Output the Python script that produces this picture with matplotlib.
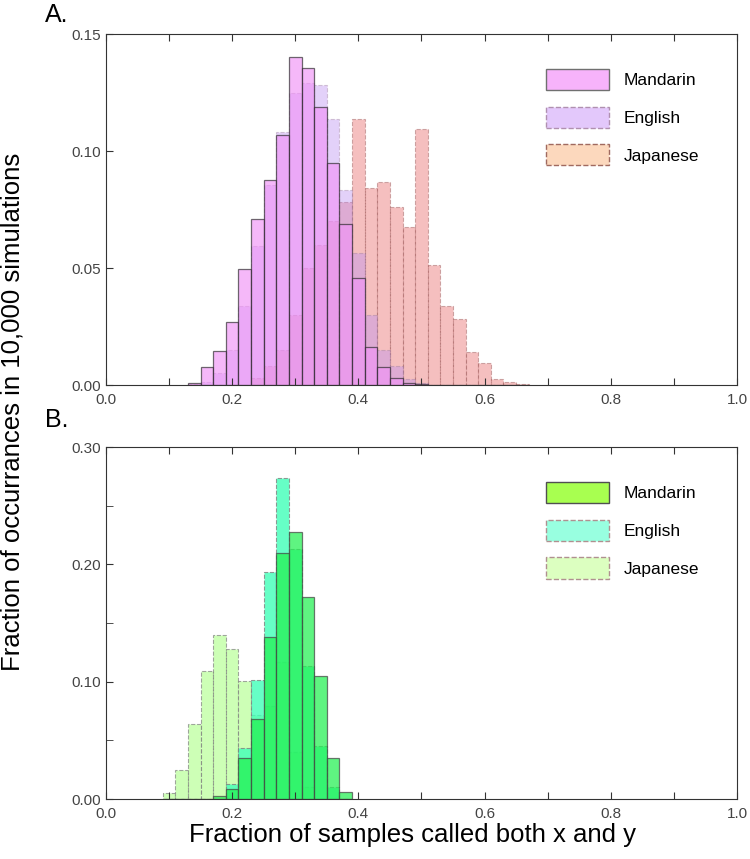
import numpy as np
import matplotlib.pyplot as plt
from matplotlib.patches import Patch
from matplotlib.ticker import MultipleLocator, FuncFormatter

plt.rcParams['font.family'] = ['Liberation Sans', 'DejaVu Sans']

# panel A: bin centres (width 0.02) and fractions
centers_a = np.round(np.arange(0.14, 0.661, 0.02), 2)
mandarin_a = [0.0007, 0.0076, 0.0147, 0.0268, 0.0496, 0.0709, 0.0876, 0.1068, 0.140, 0.1355,
              0.1187, 0.095, 0.0688, 0.0456, 0.0164, 0.0076, 0.0028, 0.0007, 0.0003, 0, 0, 0, 0, 0, 0, 0, 0]
english_a = [0.0004, 0.0014, 0.005, 0.015, 0.0339, 0.0594, 0.0855, 0.1083, 0.125, 0.129,
             0.128, 0.1135, 0.0833, 0.0563, 0.0299, 0.015, 0.0081, 0.0024, 0.0007, 0, 0, 0, 0, 0, 0, 0, 0]
japanese_a = [0, 0, 0, 0, 0, 0.003, 0.008, 0.015, 0.03, 0.05,
              0.06, 0.07, 0.078, 0.1135, 0.084, 0.0866, 0.0759, 0.0674, 0.1093, 0.0513,
              0.0339, 0.0283, 0.0141, 0.0093, 0.0026, 0.0011, 0.0004]

# panel B
centers_b = np.round(np.arange(0.10, 0.381, 0.02), 2)
mandarin_b = [0, 0, 0, 0, 0.003, 0.0083, 0.0348, 0.0681, 0.138, 0.21, 0.2274, 0.1724, 0.105, 0.035, 0.006]
english_b = [0, 0, 0, 0, 0, 0.0128, 0.0438, 0.1011, 0.1937, 0.2735, 0.2128, 0.113, 0.045, 0.01, 0]
japanese_b = [0.0054, 0.0245, 0.0641, 0.1094, 0.1396, 0.1276, 0.1006, 0.072, 0.079, 0.117, 0.04, 0.01, 0, 0, 0]

labels = ['Mandarin', 'English', 'Japanese']

fig = plt.figure(figsize=(7.5, 8.59), dpi=100)
ax_a = fig.add_axes([0.1413, 0.5518, 0.8413, 0.4086])
ax_b = fig.add_axes([0.1413, 0.0698, 0.8413, 0.4098])


def draw(ax, centers, series, styles, legend_cols, legend_edges):
    for vals, st in zip(series, styles):
        ax.bar(centers, vals, width=0.02, align='center', **st)
    handles = [Patch(facecolor=fc, edgecolor=ec, linestyle=ls, linewidth=1)
               for fc, (ec, ls) in zip(legend_cols, legend_edges)]
    ax.legend(handles, labels, loc='upper right', bbox_to_anchor=(0.965, 0.945), frameon=False,
              fontsize=12.5, handlelength=3.6, handleheight=1.5, labelspacing=0.95, handletextpad=0.85)


def style_axes(ax, ymax, ymajor, yminor, yfmt):
    ax.set_xlim(0, 1)
    ax.set_ylim(0, ymax)
    ax.xaxis.set_major_locator(MultipleLocator(0.1))
    ax.xaxis.set_major_formatter(FuncFormatter(
        lambda v, p: f'{v:.1f}' if round(v * 10) % 2 == 0 else ''))
    ax.yaxis.set_major_locator(MultipleLocator(ymajor))
    ax.yaxis.set_minor_locator(MultipleLocator(yminor))
    ax.yaxis.set_major_formatter(FuncFormatter(lambda v, p: yfmt.format(v)))
    ax.tick_params(axis='both', which='both', direction='in', length=5, colors='#333333',
                   labelcolor='#444444', labelsize=11, top=True)
    ax.tick_params(axis='x', pad=6)
    for sp in ax.spines.values():
        sp.set_color('#333333')


draw(ax_a, centers_a, [japanese_a, english_a, mandarin_a],
     [dict(color='#ed8181', alpha=0.5, edgecolor='#a06060', linestyle='--', linewidth=0.8),
      dict(color='#bb8ef2', alpha=0.4, edgecolor='#9a7a9a', linestyle='--', linewidth=0.8),
      dict(color='#f093f7', alpha=0.65, edgecolor='#222222', linestyle='-', linewidth=0.9)],
     ['#f7b3fb', '#e3c8fb', '#fcd8bd'],
     [('#707070', '-'), ('#b090b0', '--'), ('#a06a60', '--')])
style_axes(ax_a, 0.15, 0.05, 0.05, '{:.2f}')

draw(ax_b, centers_b, [japanese_b, english_b, mandarin_b],
     [dict(color='#b8ff98', alpha=0.7, edgecolor='#808080', linestyle='--', linewidth=0.8),
      dict(color='#40ffb8', alpha=0.8, edgecolor='#808080', linestyle='--', linewidth=0.8),
      dict(color='#22f050', alpha=0.72, edgecolor='#444444', linestyle='-', linewidth=0.9)],
     ['#a8ff50', '#98ffe0', '#dcffc0'],
     [('#505050', '-'), ('#b09090', '--'), ('#b09090', '--')])
style_axes(ax_b, 0.30, 0.10, 0.05, '{:.2f}')

fig.text(0.06, 0.982, 'A.', fontsize=18, va='center', ha='left')
fig.text(0.06, 0.511, 'B.', fontsize=18, va='center', ha='left')
fig.text(0.017, 0.52, 'Fraction of occurrances in 10,000 simulations', fontsize=18.5,
         rotation=90, va='center', ha='center')
fig.text(0.55, 0.028, 'Fraction of samples called both x and y', fontsize=18.5,
         va='center', ha='center')

fig.savefig('out.png', dpi=100)
